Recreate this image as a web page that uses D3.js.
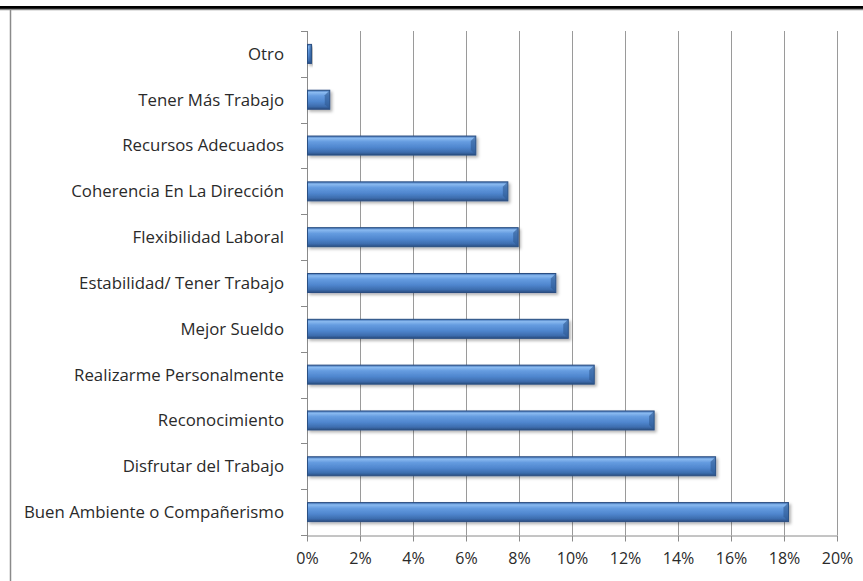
<!DOCTYPE html>
<html><head><meta charset="utf-8">
<script src="https://cdn.jsdelivr.net/npm/d3@7"></script>
<style>body{margin:0;background:#fff}svg{display:block}</style>
</head><body>
<script>
const categories = ["Otro","Tener Más Trabajo","Recursos Adecuados","Coherencia En La Dirección","Flexibilidad Laboral","Estabilidad/ Tener Trabajo","Mejor Sueldo","Realizarme Personalmente","Reconocimiento","Disfrutar del Trabajo","Buen Ambiente o Compañerismo"];
const values = [0.15,0.84,6.35,7.56,7.95,9.37,9.84,10.82,13.08,15.4,18.15];
const xTicks = [0,2,4,6,8,10,12,14,16,18,20];

const W=863,H=581;
const FONT="'Open Sans', sans-serif";
const svg=d3.select("body").append("svg").attr("width",W).attr("height",H);
const defs=svg.append("defs");
const g1=defs.append("linearGradient").attr("id","barg").attr("x1",0).attr("y1",0).attr("x2",0).attr("y2",1);
[[0,"#3e6fb3"],[0.12,"#8abaf0"],[0.3,"#659ce0"],[0.6,"#4f86ce"],[0.85,"#3d6dae"],[1,"#2a4d80"]].forEach(s=>g1.append("stop").attr("offset",s[0]).attr("stop-color",s[1]));
const f=defs.append("filter").attr("id","sh").attr("x","-10%").attr("y","-30%").attr("width","130%").attr("height","190%");
f.append("feDropShadow").attr("dx",2).attr("dy",2).attr("stdDeviation",1.5).attr("flood-color","#000").attr("flood-opacity",0.3);

// frame
svg.append("rect").attr("x",0).attr("y",6).attr("width",W).attr("height",3).attr("fill","#000");
svg.append("line").attr("x1",0).attr("x2",W).attr("y1",9.5).attr("y2",9.5).attr("stroke","#8a8a8a").attr("stroke-width",1.5);
svg.append("line").attr("x1",10.5).attr("x2",10.5).attr("y1",10).attr("y2",H).attr("stroke","#8a8a8a").attr("stroke-width",1.5);

const x=d3.scaleLinear().domain([0,20]).range([307,837]);
const y=d3.scaleBand().domain(categories).range([31,535]).paddingInner(0.585).paddingOuter(0.2925);

// gridlines
svg.append("g").selectAll("line").data(xTicks.slice(1)).join("line")
 .attr("x1",d=>Math.round(x(d))+0.5).attr("x2",d=>Math.round(x(d))+0.5).attr("y1",31).attr("y2",535)
 .attr("stroke","#9a9a9a").attr("stroke-width",1);

// bottom axis
const xa=svg.append("g").attr("transform","translate(0,535.5)")
 .call(d3.axisBottom(x).tickValues(xTicks).tickFormat(d=>d+"%").tickSize(6).tickPadding(11).tickSizeOuter(0));
xa.select(".domain").attr("stroke","#8a8a8a");
xa.selectAll(".tick line").attr("stroke","#8a8a8a");
xa.selectAll("text").attr("font-family",FONT).attr("font-size",16).attr("fill","#2a2a2a");

// left axis
const yb=d3.scaleLinear().domain([0,categories.length]).range([31,535]);
const ya=svg.append("g");
ya.append("line").attr("x1",307.5).attr("x2",307.5).attr("y1",31).attr("y2",541).attr("stroke","#8a8a8a");
ya.selectAll("line.t").data(d3.range(categories.length+1)).join("line").attr("class","t")
 .attr("x1",301).attr("x2",307.5).attr("y1",d=>Math.round(yb(d))+0.5).attr("y2",d=>Math.round(yb(d))+0.5).attr("stroke","#8a8a8a");
ya.selectAll("text").data(categories).join("text")
 .attr("x",284).attr("y",d=>y(d)+y.bandwidth()/2).attr("dy","0.35em").attr("text-anchor","end")
 .attr("font-family",FONT).attr("font-size",16.8).attr("fill","#2a2a2a").text(d=>d);

// bars
const bars=svg.append("g").selectAll("g").data(categories).join("g");
bars.append("rect").attr("x",x(0)+0.5).attr("y",d=>y(d)).attr("height",y.bandwidth())
 .attr("width",(d,i)=>x(values[i])-x(0)).attr("fill","url(#barg)")
 .attr("stroke","#2b4f82").attr("stroke-width",1).attr("filter","url(#sh)");
// bevel at end
bars.append("path").attr("d",(d,i)=>{
  const xe=x(values[i])+0.5, yt=y(d), h=y.bandwidth(), b=Math.min(5,(x(values[i])-x(0))/2);
  return `M${xe-b},${yt+b}L${xe},${yt}L${xe},${yt+h}L${xe-b},${yt+h-b}Z`;
}).attr("fill","#2f5a92").attr("opacity",0.6);
</script>
</body></html>
